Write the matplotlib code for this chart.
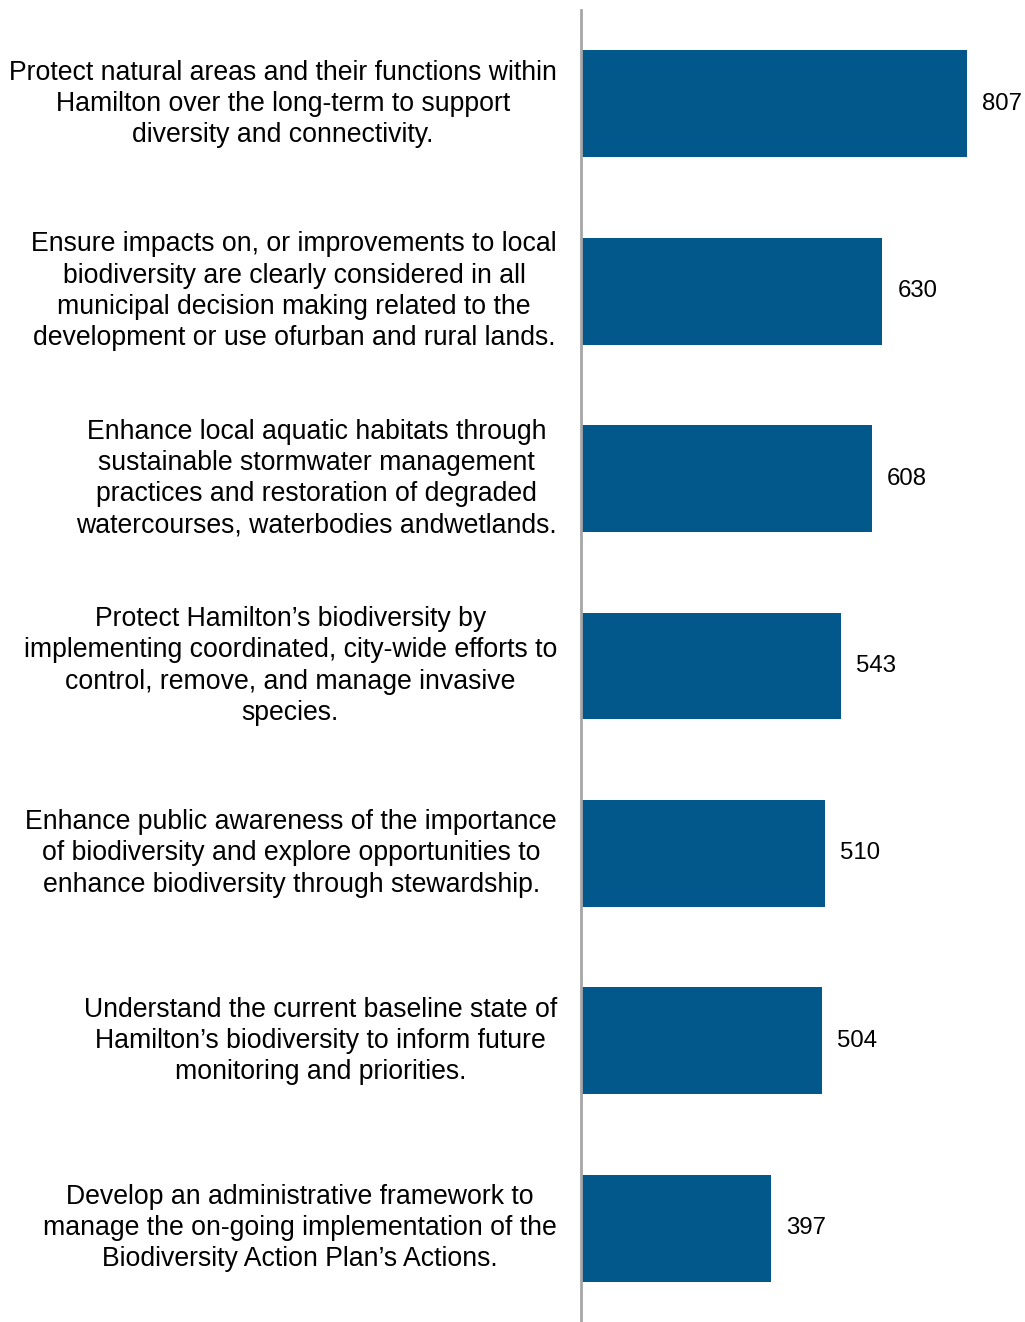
import matplotlib
matplotlib.use("Agg")
import matplotlib.pyplot as plt
from matplotlib.transforms import offset_copy

plt.rcParams['font.family'] = ['Liberation Sans', 'DejaVu Sans']

categories = [
    "Protect natural areas and their functions within\nHamilton over the long-term to support\ndiversity and connectivity.",
    "Ensure impacts on, or improvements to local\nbiodiversity are clearly considered in all\nmunicipal decision making related to the\ndevelopment or use ofurban and rural lands.",
    "Enhance local aquatic habitats through\nsustainable stormwater management\npractices and restoration of degraded\nwatercourses, waterbodies andwetlands.",
    "Protect Hamilton\u2019s biodiversity by\nimplementing coordinated, city-wide efforts to\ncontrol, remove, and manage invasive\nspecies.",
    "Enhance public awareness of the importance\nof biodiversity and explore opportunities to\nenhance biodiversity through stewardship.",
    "Understand the current baseline state of\nHamilton\u2019s biodiversity to inform future\nmonitoring and priorities.",
    "Develop an administrative framework to\nmanage the on-going implementation of the\nBiodiversity Action Plan\u2019s Actions.",
]
values = [807, 630, 608, 543, 510, 504, 397]

W, H, DPI = 1025, 1322, 100
fig = plt.figure(figsize=(W / DPI, H / DPI), dpi=DPI)
ax = fig.add_axes([581 / W, 0, 1 - 581 / W, 1 - 10 / H])

pos = list(range(len(values)))
ax.barh(pos, values, height=0.57, color="#02578B", zorder=2)
ax.set_ylim(len(values) - 0.5, -0.5)
ax.set_xlim(0, 928)

for s in ["top", "right", "bottom"]:
    ax.spines[s].set_visible(False)
ax.spines["left"].set_color("#A6A6A6")
ax.spines["left"].set_linewidth(2)
ax.set_xticks([])
ax.set_yticks([])

label_tr = offset_copy(ax.transData, fig=fig, x=-24, y=0, units="dots")
value_tr = offset_copy(ax.transData, fig=fig, x=15, y=0, units="dots")
for p, cat, v in zip(pos, categories, values):
    ax.text(0, p, cat, transform=label_tr, ha="right", va="center",
            multialignment="center", fontsize=19.15, linespacing=1.26,
            color="#000000")
    ax.text(v, p, f"{v}", transform=value_tr, ha="left", va="center",
            fontsize=17.3, color="#000000")

fig.savefig("out.png", dpi=DPI)
